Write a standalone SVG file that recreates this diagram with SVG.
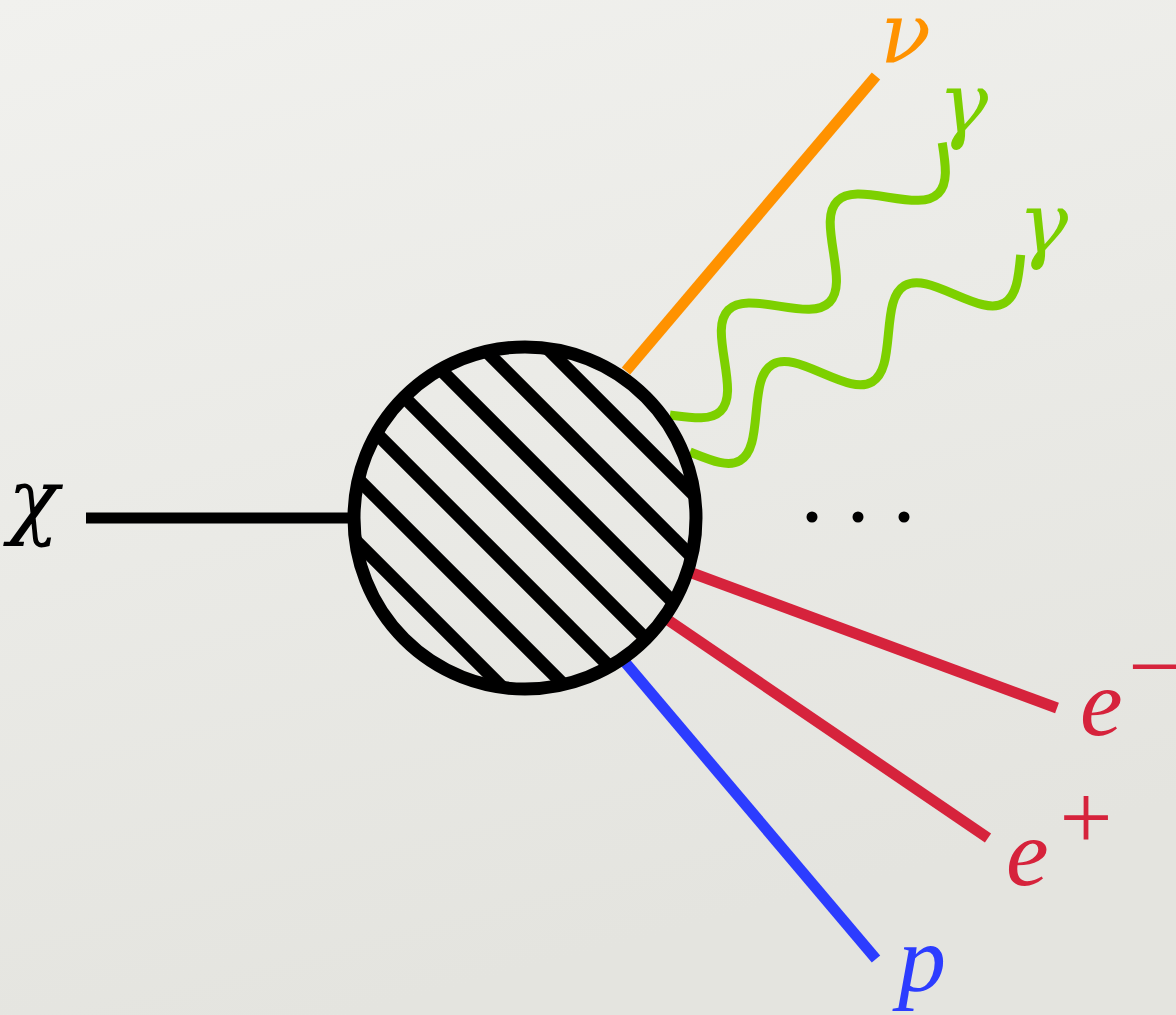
<svg xmlns="http://www.w3.org/2000/svg" width="1176" height="1015" viewBox="0 0 1176 1015">
<defs>
<linearGradient id="bg" x1="0" y1="0" x2="0.3" y2="1">
<stop offset="0" stop-color="#f1f1ee"/>
<stop offset="1" stop-color="#e4e4df"/>
</linearGradient>
<clipPath id="blobclip"><circle cx="525" cy="518" r="171"/></clipPath>
<path id="wave" d="M0,0 c13.9,18.1 24.6,33 38.5,33 s24.6,-13.9 38.5,-33 s24.6,-33 38.5,-33 s24.6,13.9 38.5,33 s24.6,33 38.5,33 s24.6,-13.9 38.5,-33 s24.6,-33 38.5,-33 s24.6,13.9 38.5,33 s24.6,33 38.5,33 s24.6,-13.9 38.5,-33"/>
</defs>
<style>
.lbl{font-family:"Liberation Serif","DejaVu Serif",serif;font-style:italic;font-size:96px}
.grk{font-family:"DejaVu Serif","Liberation Serif",serif;font-style:italic;font-size:84px}
.sup{font-family:"Liberation Serif","DejaVu Serif",serif;font-size:94px}
.leg{fill:none;stroke-width:11;stroke-linecap:butt}
.photon{fill:none;stroke:#7dd000;stroke-width:9}
.hatch{stroke:#000;stroke-width:13}
</style>
<rect width="1176" height="1015" fill="url(#bg)"/>
<g id="connectors">
<line id="chi-line" class="leg" x1="86" y1="518" x2="352" y2="518" stroke="#000"/>
<line id="nu-line" class="leg" x1="626" y1="371" x2="876" y2="76" stroke="#ff9200"/>
<use id="gamma1-line" href="#wave" class="photon" transform="translate(670,415) rotate(-45)"/>
<use id="gamma2-line" href="#wave" class="photon" transform="translate(690,452) rotate(-30.8)"/>
<line id="em-line" class="leg" x1="692" y1="573" x2="1057" y2="708" stroke="#d6233c"/>
<line id="ep-line" class="leg" x1="668" y1="620" x2="988" y2="838" stroke="#d6233c"/>
<line id="p-line" class="leg" x1="624" y1="661" x2="876" y2="959" stroke="#2c3cff"/>
</g>
<g id="blob">
<g clip-path="url(#blobclip)">
<line class="hatch" x1="325" y1="126" x2="725" y2="526"/>
<line class="hatch" x1="325" y1="190" x2="725" y2="590"/>
<line class="hatch" x1="325" y1="254" x2="725" y2="654"/>
<line class="hatch" x1="325" y1="318" x2="725" y2="718"/>
<line class="hatch" x1="325" y1="382" x2="725" y2="782"/>
<line class="hatch" x1="325" y1="446" x2="725" y2="846"/>
<line class="hatch" x1="325" y1="510" x2="725" y2="910"/>
</g>
<circle cx="525" cy="518" r="171" fill="none" stroke="#000" stroke-width="13"/>
</g>
<g id="chi"><text class="grk" x="8" y="528" font-size="98" fill="#000">χ</text></g>
<g id="nu"><text class="grk" x="880" y="62" font-size="76" fill="#ff9200">ν</text></g>
<g id="gamma1"><text class="grk" x="938" y="132" fill="#7dd000">γ</text></g>
<g id="gamma2"><text class="grk" x="1018" y="252" fill="#7dd000">γ</text></g>
<g id="dots">
<circle cx="812" cy="517" r="5.5" fill="#000"/>
<circle cx="858" cy="517" r="5.5" fill="#000"/>
<circle cx="904" cy="517" r="5.5" fill="#000"/>
</g>
<g id="eminus"><text class="lbl" x="1080" y="735" fill="#d6233c">e</text><text class="sup" x="1128" y="698" font-size="78" fill="#d6233c">−</text></g>
<g id="eplus"><text class="lbl" x="1006" y="885" fill="#d6233c">e</text><text class="sup" x="1086" y="849" text-anchor="middle" fill="#d6233c">+</text></g>
<g id="p"><text class="lbl" x="898" y="991" fill="#2c3cff">p</text></g>
</svg>
